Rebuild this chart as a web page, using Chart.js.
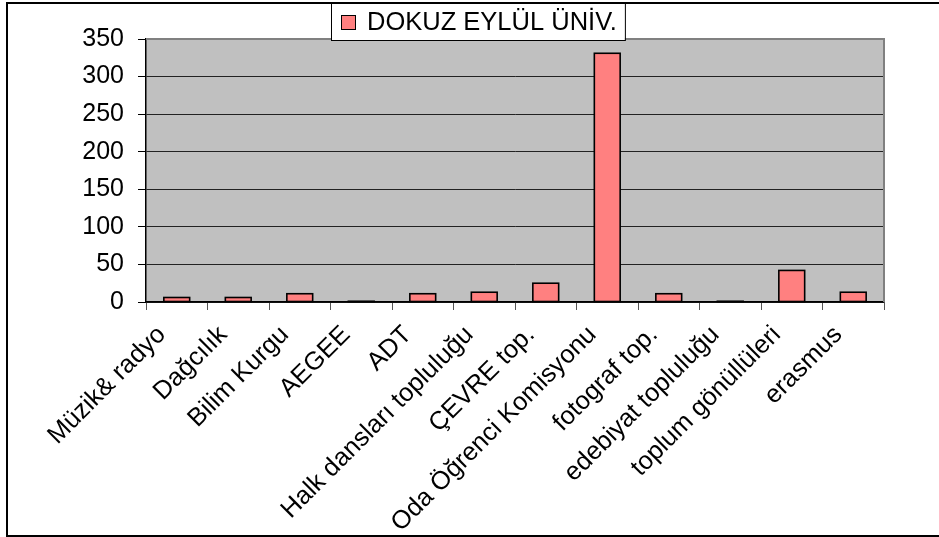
<!DOCTYPE html>
<html>
<head>
<meta charset="utf-8">
<script src="https://cdn.jsdelivr.net/npm/chart.js@4/dist/chart.umd.min.js"></script>
<style>
html,body{margin:0;padding:0;background:#fff;}
#wrap{width:939px;height:537px;position:relative;}
</style>
</head>
<body>
<div id="wrap"><canvas id="c" width="939" height="537"></canvas></div>
<script>
const categories = ["Müzik& radyo","Dağcılık","Bilim Kurgu","AEGEE","ADT","Halk dansları topluluğu","ÇEVRE top.","Oda Öğrenci Komisyonu","fotograf top.","edebiyat topluluğu","toplum gönüllüleri","erasmus"];
const seriesName = "DOKUZ EYLÜL ÜNİV.";
const values = [6, 6, 11, 1, 11, 13, 25, 331, 11, 1, 42, 13];
const yTicks = [0, 50, 100, 150, 200, 250, 300, 350];

const FONT = "'Liberation Sans', Arial, sans-serif";

const framePlugin = {
  id: 'frame',
  beforeDraw(chart) {
    const {ctx, chartArea: a} = chart;
    ctx.save();
    ctx.fillStyle = '#fff';
    ctx.fillRect(0, 0, chart.width, chart.height);
    ctx.fillStyle = '#C0C0C0';
    ctx.fillRect(a.left, a.top, a.right - a.left, a.bottom - a.top);
    ctx.restore();
  },
  afterDatasetsDraw(chart) {
    // centred outline around each bar, like the original
    const {ctx} = chart;
    const meta = chart.getDatasetMeta(0);
    ctx.save();
    ctx.strokeStyle = '#000';
    ctx.lineWidth = 1.6;
    meta.data.forEach(bar => {
      const p = bar.getProps(['x', 'y', 'base', 'width'], true);
      const l = p.x - p.width / 2, t = Math.min(p.y, p.base), h = Math.abs(p.base - p.y);
      ctx.strokeRect(l, t, p.width, h);
    });
    ctx.restore();
  },
  afterDraw(chart) {
    const {ctx, chartArea: a} = chart;
    ctx.save();
    ctx.strokeStyle = '#808080';
    ctx.lineWidth = 2;
    ctx.beginPath();
    ctx.moveTo(a.left, a.top);
    ctx.lineTo(a.right, a.top);
    ctx.lineTo(a.right, a.bottom);
    ctx.stroke();
    ctx.strokeStyle = '#000';
    ctx.lineWidth = 2;
    ctx.strokeRect(7, 3, 950, 533);
    const ds = chart.data.datasets[0];
    ctx.font = '25.5px ' + FONT;
    const tw = ctx.measureText(ds.label).width;
    const bx = 331, by = 3, bh = 37;
    const bw = 36 + tw + 8;
    ctx.fillStyle = '#fff';
    ctx.fillRect(bx, by, bw, bh);
    ctx.strokeStyle = '#000';
    ctx.lineWidth = 1;
    ctx.strokeRect(bx + 0.5, by + 0.5, bw, bh);
    ctx.fillStyle = ds.backgroundColor;
    ctx.fillRect(bx + 10.5, by + 12.5, 14, 14);
    ctx.strokeStyle = '#000';
    ctx.strokeRect(bx + 10.5, by + 12.5, 14, 14);
    ctx.fillStyle = '#000';
    ctx.textBaseline = 'middle';
    ctx.textAlign = 'left';
    ctx.fillText(ds.label, bx + 36, by + 20);
    ctx.restore();
  }
};

new Chart(document.getElementById('c'), {
  type: 'bar',
  data: {
    labels: categories,
    datasets: [{
      label: seriesName,
      data: values,
      backgroundColor: '#FF8080',
      borderColor: '#000',
      borderWidth: 0,
      barPercentage: 0.42,
      categoryPercentage: 1.0
    }]
  },
  options: {
    responsive: false,
    animation: false,
    devicePixelRatio: 1,
    layout: { padding: { top: 39, left: 8, right: 55, bottom: 0 } },
    plugins: { legend: { display: false }, tooltip: { enabled: false } },
    scales: {
      x: {
        offset: true,
        grid: { display: true, offset: true, drawOnChartArea: false, drawTicks: true, tickLength: 8, color: '#555', lineWidth: 1 },
        border: { color: '#000', width: 1.5 },
        ticks: { color: '#000', font: { family: FONT, size: 25.5 }, minRotation: 45, maxRotation: 45, autoSkip: false, padding: 10, labelOffset: -15 },
        afterFit(scale) { scale.height = 235; }
      },
      y: {
        min: 0, max: 350,
        afterBuildTicks(scale) { scale.ticks = yTicks.map(v => ({ value: v })); },
        grid: { color: ctx => (ctx.tick && ctx.tick.value === 350) ? '#808080' : '#222', lineWidth: 1, tickLength: 8, tickColor: '#000' },
        border: { color: '#000', width: 1.5 },
        ticks: { color: '#000', font: { family: FONT, size: 25 }, padding: 14 },
        afterFit(scale) { scale.width = 138; }
      }
    }
  },
  plugins: [framePlugin]
});
</script>
</body>
</html>
